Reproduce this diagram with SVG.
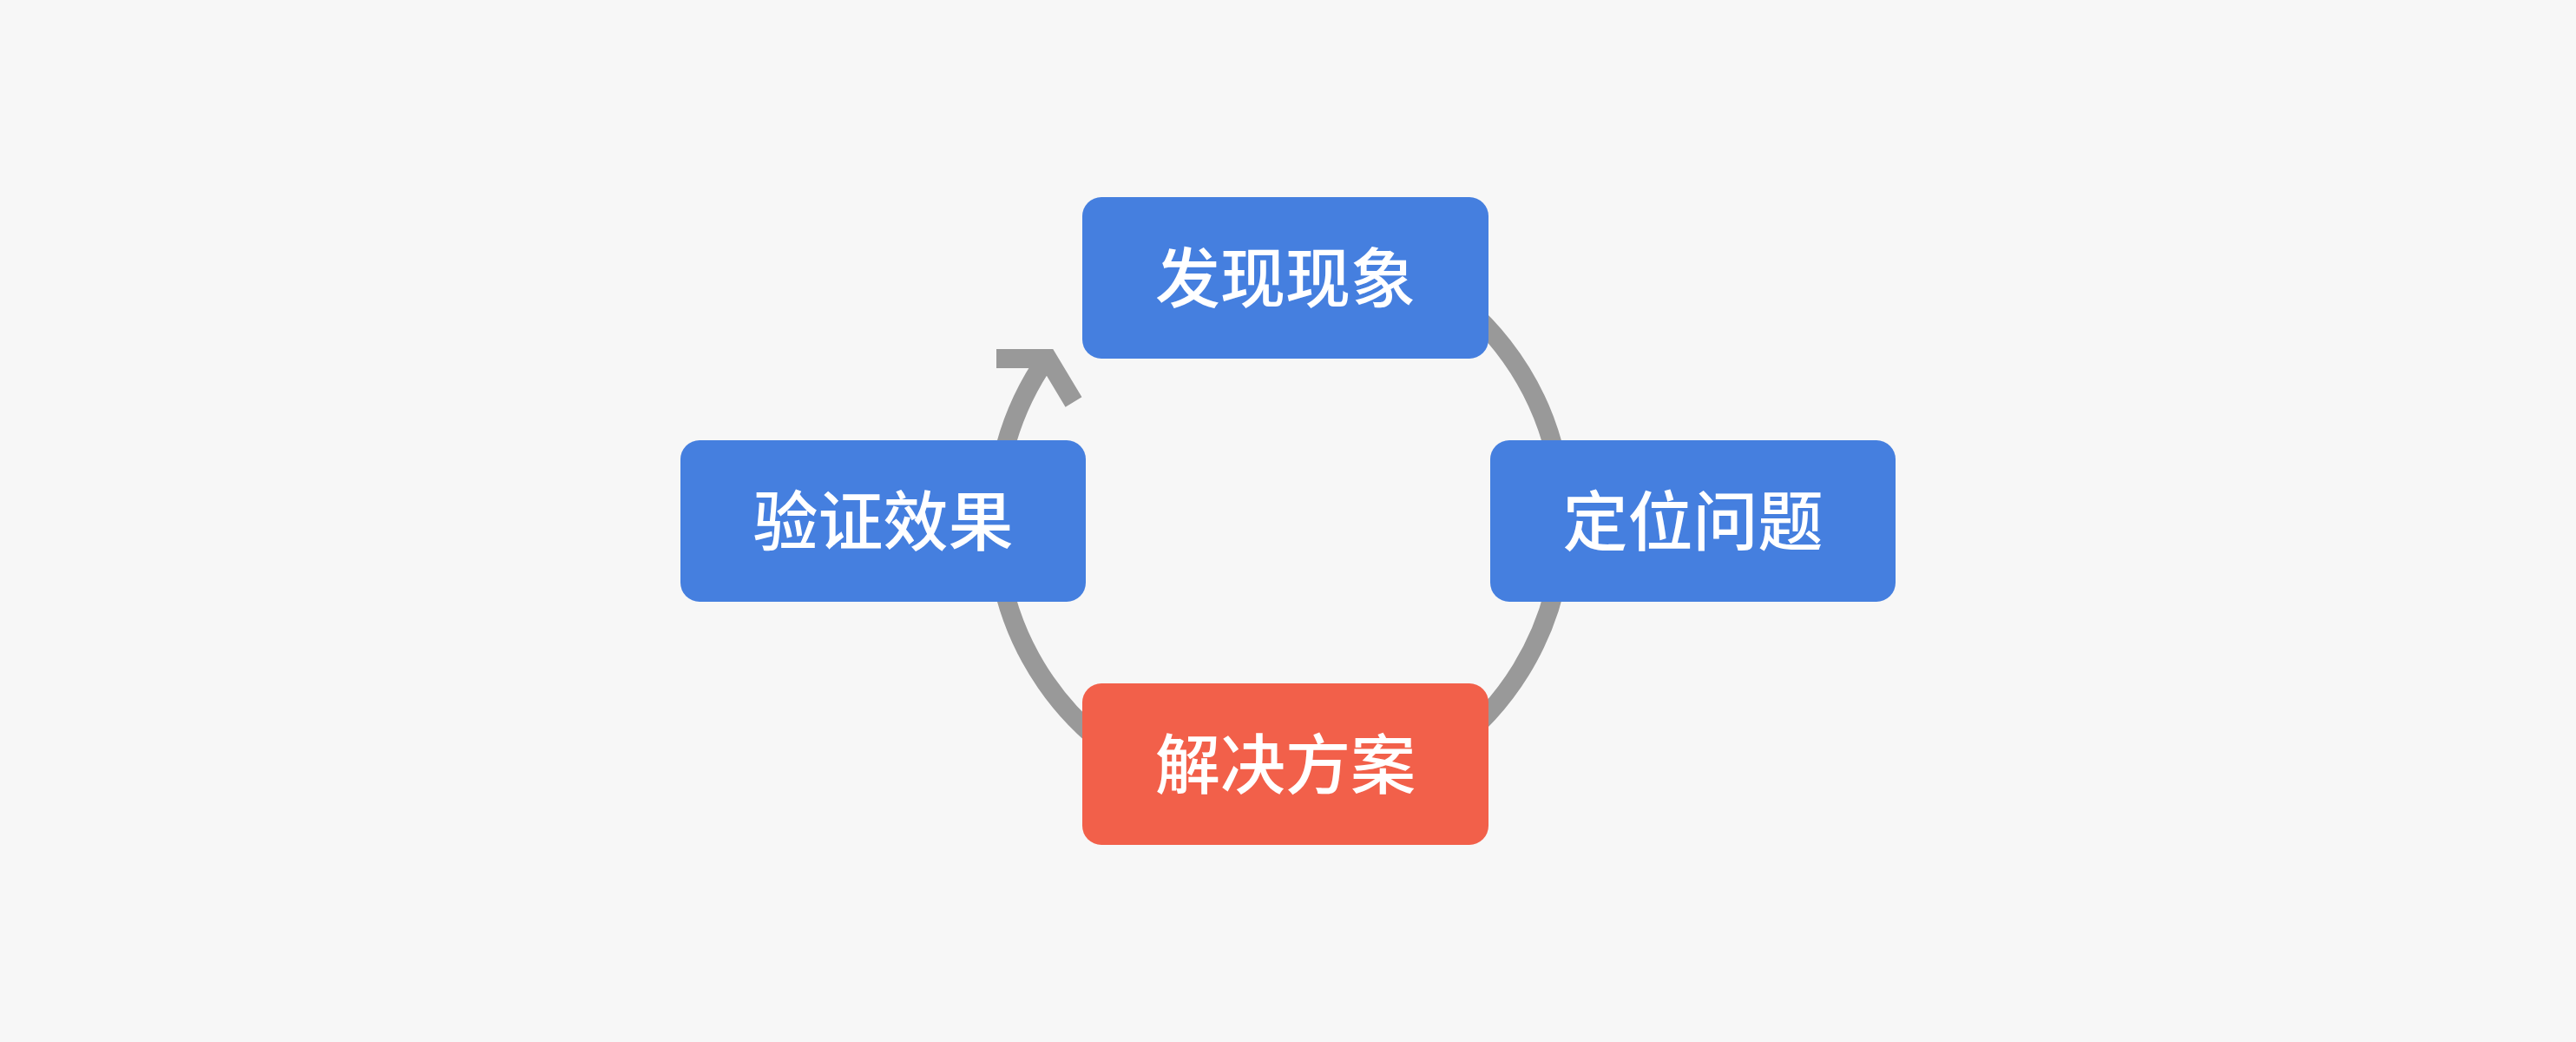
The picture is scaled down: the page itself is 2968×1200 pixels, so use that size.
<svg xmlns="http://www.w3.org/2000/svg" width="2968" height="1200" viewBox="0 0 2968 1200">
<style>
.box{fill:#457fdf}
.red{fill:#f2604a}
.lbl{fill:#ffffff;font-family:"Noto Sans CJK SC","Noto Sans",sans-serif;font-size:75px;font-weight:500;text-anchor:middle}
.conn{fill:none;stroke:#999999;stroke-width:22}
</style>
<rect x="0" y="0" width="2968" height="1200" fill="#f7f7f7"/>
<g id="connectors">
<path class="conn" d="M 1637.5,316.8 A 327 327 0 1 1 1206.1,412.4"/>
<polyline class="conn" points="1148,413 1207,413 1237,463" stroke-linejoin="miter" stroke-miterlimit="10"/>
</g>
<g id="node-discover">
<rect class="box" x="1247" y="227" width="468" height="186" rx="22"/>
<text class="lbl" x="1481" y="348">发现现象</text>
</g>
<g id="node-locate">
<rect class="box" x="1717" y="507" width="467" height="186" rx="22"/>
<text class="lbl" x="1950.5" y="628">定位问题</text>
</g>
<g id="node-solve">
<rect class="red" x="1247" y="787" width="468" height="186" rx="22"/>
<text class="lbl" x="1481" y="908">解决方案</text>
</g>
<g id="node-verify">
<rect class="box" x="784" y="507" width="467" height="186" rx="22"/>
<text class="lbl" x="1017.5" y="628">验证效果</text>
</g>
</svg>
